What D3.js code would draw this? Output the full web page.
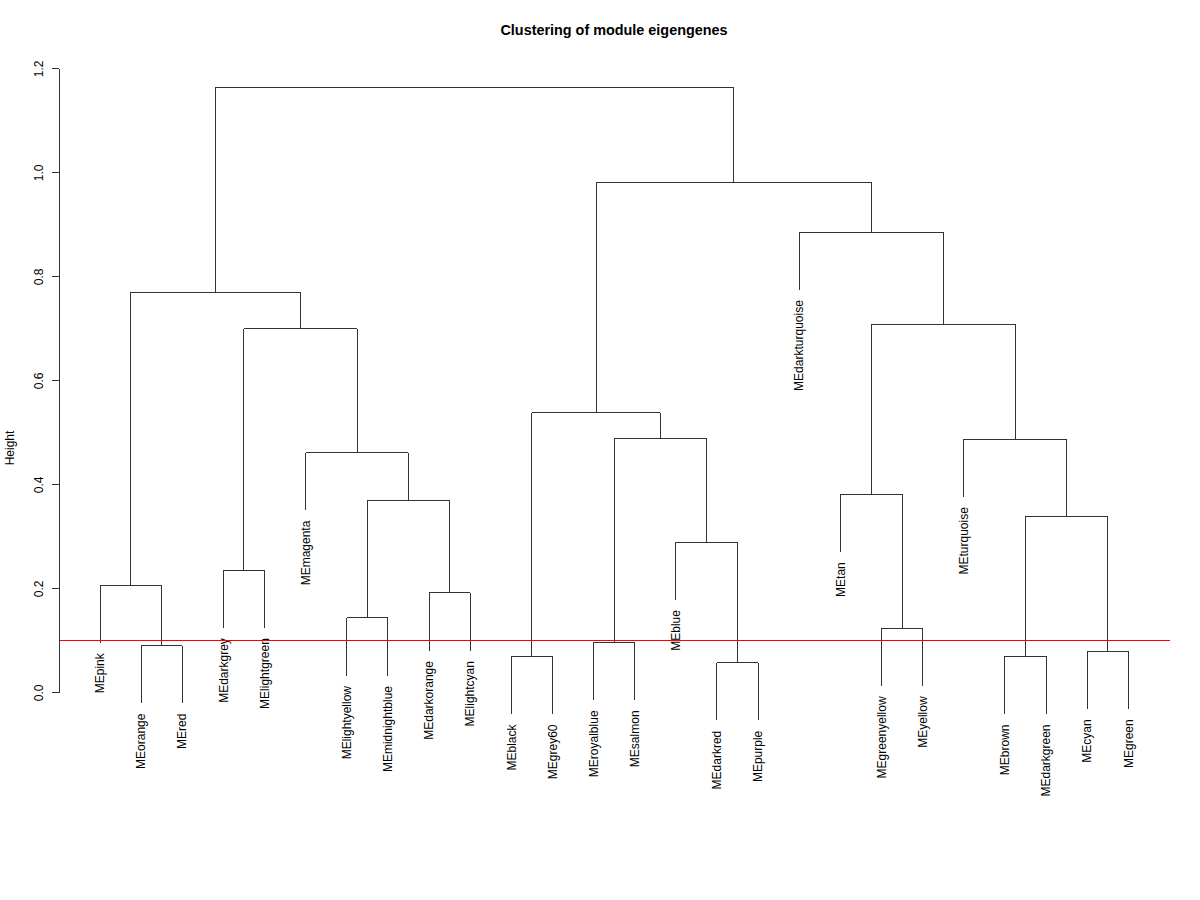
<!DOCTYPE html>
<html>
<head>
<meta charset="utf-8">
<script src="https://cdn.jsdelivr.net/npm/d3@7"></script>
<style>
  body { margin: 0; background: #fff; }
  text { font-family: "Liberation Sans", Arial, Helvetica, sans-serif; }
</style>
</head>
<body>
<div id="chart"></div>
<script>
// leaf order as drawn (left to right)
var labels = ["MEpink", "MEorange", "MEred", "MEdarkgrey", "MElightgreen", "MEmagenta",
    "MElightyellow", "MEmidnightblue", "MEdarkorange", "MElightcyan", "MEblack", "MEgrey60",
    "MEroyalblue", "MEsalmon", "MEblue", "MEdarkred", "MEpurple", "MEdarkturquoise", "MEtan",
    "MEgreenyellow", "MEyellow", "MEturquoise", "MEbrown", "MEdarkgreen", "MEcyan", "MEgreen"];

// R style merge table: negative = leaf (1-based position), positive = earlier merge row
var mergeLeft  = [-16, -11, -23, -25, -2, -13, -20, -7, -9, -1, -4, -15, 3, 8, -19, -6, -22, 6, 2, 11, 15, 10, -18, 19, 22];
var mergeRight = [-17, -12, -24, -26, -3, -14, -21, -8, -10, 5, -5, 1, 4, 9, 7, 14, 13, 12, 18, 16, 17, 20, 21, 23, 24];
var mergeHeight = [0.057, 0.069, 0.069, 0.079, 0.090, 0.096, 0.123, 0.143, 0.191, 0.206, 0.235, 0.289,
    0.338, 0.369, 0.381, 0.461, 0.487, 0.489, 0.538, 0.699, 0.708, 0.769, 0.885, 0.981, 1.164];

var yTicks = [0, 0.2, 0.4, 0.6, 0.8, 1.0, 1.2];
var cutHeight = 0.1;

var widthx = 1200;
var heighty = 900;
var hang = 0.1 * (d3.max(mergeHeight) - d3.min(mergeHeight));

var svg = d3.select("#chart")
    .append("svg")
    .attr("width", widthx)
    .attr("height", heighty);

var x = d3.scaleLinear()
    .domain([0, labels.length - 1])
    .range([100, 1128.3]);

var y = d3.scaleLinear()
    .domain([0, 1.2])
    .range([692.3, 68.3]);

// x position of each merge = midpoint of its two children
var nodeX = [];
function childX(c) { return c < 0 ? x(-c - 1) : nodeX[c - 1]; }
function childY(c, parentH) { return c < 0 ? parentH - hang : mergeHeight[c - 1]; }

mergeHeight.forEach(function(h, i) {
    nodeX[i] = (childX(mergeLeft[i]) + childX(mergeRight[i])) / 2;
});

var links = [];
var leaves = [];
mergeHeight.forEach(function(h, i) {
    [mergeLeft[i], mergeRight[i]].forEach(function(c) {
        links.push({x: childX(c), y0: h, y1: childY(c, h)});
        if (c < 0) leaves.push({name: labels[-c - 1], x: childX(c), bottom: h - hang});
    });
    links.push({x: childX(mergeLeft[i]), x2: childX(mergeRight[i]), y0: h});
});

var g = svg.append("g")
    .attr("fill", "none")
    .attr("stroke", "#333")
    .attr("stroke-width", 1)
    .attr("shape-rendering", "crispEdges");

g.selectAll("line.seg")
    .data(links)
    .enter().append("line")
    .attr("class", "seg")
    .attr("x1", function(d) { return d.x; })
    .attr("x2", function(d) { return d.x2 != null ? d.x2 : d.x; })
    .attr("y1", function(d) { return y(d.y0); })
    .attr("y2", function(d) { return d.x2 != null ? y(d.y0) : y(d.y1); });

svg.selectAll("text.leaf")
    .data(leaves)
    .enter().append("text")
    .attr("class", "leaf")
    .attr("transform", function(d) { return "translate(" + d.x + "," + (y(d.bottom) + 10.5) + ") rotate(-90)"; })
    .attr("text-anchor", "end")
    .attr("dy", "0.35em")
    .style("font-size", "12px")
    .text(function(d) { return d.name; });

// cut line
svg.append("line")
    .attr("x1", 59).attr("x2", 1170)
    .attr("y1", y(cutHeight)).attr("y2", y(cutHeight))
    .attr("stroke", "#ff0000")
    .attr("stroke-width", 1)
    .attr("shape-rendering", "crispEdges");

// y axis
var axis = svg.append("g")
    .attr("transform", "translate(59,0)")
    .call(d3.axisLeft(y).tickValues(yTicks).tickFormat(d3.format(".1f")).tickSize(7).tickSizeOuter(0));
axis.select(".domain").attr("stroke", "#333").attr("shape-rendering", "crispEdges");
axis.selectAll(".tick line").attr("stroke", "#333").attr("shape-rendering", "crispEdges");
axis.selectAll(".tick text")
    .attr("x", null)
    .attr("dy", null)
    .attr("fill", "#000")
    .attr("text-anchor", "middle")
    .attr("transform", "translate(-16.5,0) rotate(-90)")
    .style("font-size", "12px")
    .style("font-family", "\"Liberation Sans\", Arial, sans-serif");

svg.append("text")
    .attr("transform", "translate(14,448) rotate(-90)")
    .attr("text-anchor", "middle")
    .style("font-size", "12px")
    .text("Height");

svg.append("text")
    .attr("x", 614)
    .attr("y", 35)
    .attr("text-anchor", "middle")
    .style("font-size", "14.4px")
    .style("font-weight", "bold")
    .text("Clustering of module eigengenes");
</script>
</body>
</html>
